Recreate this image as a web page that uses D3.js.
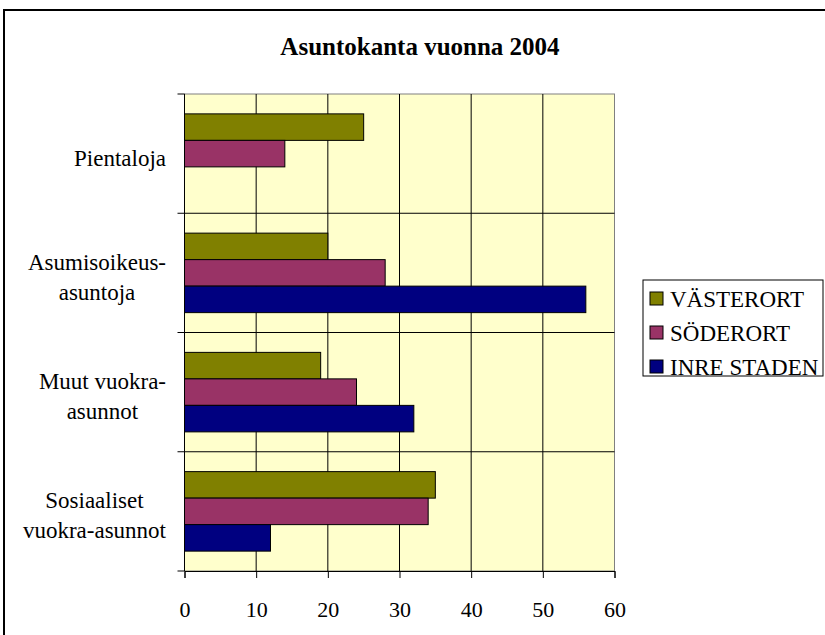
<!DOCTYPE html>
<html>
<head>
<meta charset="utf-8">
<script src="https://cdn.jsdelivr.net/npm/d3@7"></script>
<style>
  body { margin: 0; background: #fff; }
  svg text { font-family: "Liberation Serif", "DejaVu Serif", serif !important; fill: #000; }
</style>
</head>
<body>
<svg id="chart" width="825" height="635"></svg>
<script>
// data
var categories = ["Pientaloja", "Asumisoikeus-asuntoja", "Muut vuokra-asunnot", "Sosiaaliset vuokra-asunnot"];
var categoryLines = [["Pientaloja"], ["Asumisoikeus-", "asuntoja"], ["Muut vuokra-", "asunnot"], ["Sosiaaliset", "vuokra-asunnot"]];
var seriesNames = ["VÄSTERORT", "SÖDERORT", "INRE STADEN"];
var seriesColors = ["#808000", "#993366", "#000080"];
var vasterort = [25, 20, 19, 35];
var soderort = [14, 28, 24, 34];
var inreStaden = [0, 56, 32, 12];
var xTicks = [0, 10, 20, 30, 40, 50, 60];

var seriesValues = [vasterort, soderort, inreStaden];
var serif = "'Liberation Serif', serif";

var svg = d3.select("#chart");

// outer chart border
svg.append("rect")
  .attr("x", 4).attr("y", 10)
  .attr("width", 830).attr("height", 640)
  .attr("fill", "#fff")
  .attr("stroke", "#000")
  .attr("stroke-width", 2);

// title
svg.append("text")
  .attr("x", 420)
  .attr("y", 55)
  .attr("text-anchor", "middle")
  .style("font-family", serif)
  .style("font-size", "25px")
  .style("font-weight", "bold")
  .text("Asuntokanta vuonna 2004");

var plotLeft = 184.5, plotTop = 94, width = 430, height = 477;
var g = svg.append("g").attr("transform", "translate(" + plotLeft + "," + plotTop + ")");

var x = d3.scaleLinear().domain([0, 60]).range([0, width]);
var y = d3.scaleBand().domain(categories).range([0, height]);
var ySub = d3.scaleBand().domain(seriesNames).range([0, y.bandwidth()])
  .paddingInner(0).paddingOuter(0.75);

// plot background
g.append("rect")
  .attr("width", width).attr("height", height)
  .attr("fill", "#ffffcc")
  .attr("stroke", "#808080")
  .attr("stroke-width", 1);

// vertical gridlines
g.selectAll(".vgrid")
  .data(xTicks.slice(1, -1))
  .enter()
  .append("line")
  .attr("class", "vgrid")
  .attr("x1", function(d) { return x(d); })
  .attr("x2", function(d) { return x(d); })
  .attr("y1", 0).attr("y2", height)
  .attr("stroke", "#000")
  .attr("stroke-width", 1);

// horizontal gridlines at category boundaries
g.selectAll(".hgrid")
  .data(categories.slice(1))
  .enter()
  .append("line")
  .attr("class", "hgrid")
  .attr("x1", 0).attr("x2", width)
  .attr("y1", function(d) { return y(d); })
  .attr("y2", function(d) { return y(d); })
  .attr("stroke", "#000")
  .attr("stroke-width", 1);

// bars
var rows = [];
categories.forEach(function(c, i) {
  seriesNames.forEach(function(s, j) {
    rows.push({ cat: c, series: s, value: seriesValues[j][i], color: seriesColors[j] });
  });
});

g.selectAll(".bar")
  .data(rows.filter(function(d) { return d.value > 0; }))
  .enter()
  .append("rect")
  .attr("class", "bar")
  .attr("x", x(0))
  .attr("y", function(d) { return y(d.cat) + ySub(d.series); })
  .attr("width", function(d) { return x(d.value) - x(0); })
  .attr("height", ySub.bandwidth())
  .attr("fill", function(d) { return d.color; })
  .attr("stroke", "#000")
  .attr("stroke-width", 1);

// x axis
var xAxis = d3.axisBottom(x).tickValues(xTicks).tickSize(7).tickPadding(23);
var xg = g.append("g")
  .attr("transform", "translate(0," + height + ")")
  .call(xAxis);
xg.attr("font-size", null).attr("font-family", null);
xg.selectAll("text").style("font-size", "22px").style("font-family", serif);
xg.select(".domain").attr("stroke", "#000");

// y axis: ticks at category boundaries
var yBounds = categories.map(function(c) { return y(c); }).concat([height]);
g.append("line")
  .attr("x1", 0).attr("x2", 0).attr("y1", 0).attr("y2", height)
  .attr("stroke", "#000");
g.selectAll(".ytick")
  .data(yBounds)
  .enter()
  .append("line")
  .attr("class", "ytick")
  .attr("x1", -7).attr("x2", 0)
  .attr("y1", function(d) { return d; })
  .attr("y2", function(d) { return d; })
  .attr("stroke", "#000");

// category labels, lines centred, block right-aligned
var labelRight = 166 - plotLeft;
categories.forEach(function(c, i) {
  var lines = categoryLines[i];
  var lineH = 30;
  var t = g.append("text")
    .style("font-family", serif)
    .style("font-size", "23px")
    .attr("text-anchor", "middle");
  var cy = y(c) + y.bandwidth() / 2 + 12 - (lines.length - 1) * lineH / 2;
  var spans = lines.map(function(l, k) {
    return t.append("tspan").attr("y", cy + k * lineH).text(l);
  });
  var maxW = d3.max(spans, function(s) { return s.node().getComputedTextLength(); });
  spans.forEach(function(s) { s.attr("x", labelRight - maxW / 2); });
});

// legend
var legend = svg.append("g").attr("transform", "translate(643,280)");
legend.append("rect")
  .attr("width", 180).attr("height", 96)
  .attr("fill", "#fff")
  .attr("stroke", "#000")
  .attr("stroke-width", 1);

var items = legend.selectAll(".item")
  .data(seriesNames)
  .enter()
  .append("g")
  .attr("class", "item")
  .attr("transform", function(d, i) { return "translate(7," + (12 + i * 34) + ")"; });

items.append("rect")
  .attr("width", 13).attr("height", 13)
  .attr("fill", function(d, i) { return seriesColors[i]; })
  .attr("stroke", "#000");

items.append("text")
  .attr("x", 20)
  .attr("y", 14.5)
  .style("font-family", serif)
  .style("font-size", "23px")
  .text(function(d) { return d; });
</script>
</body>
</html>
